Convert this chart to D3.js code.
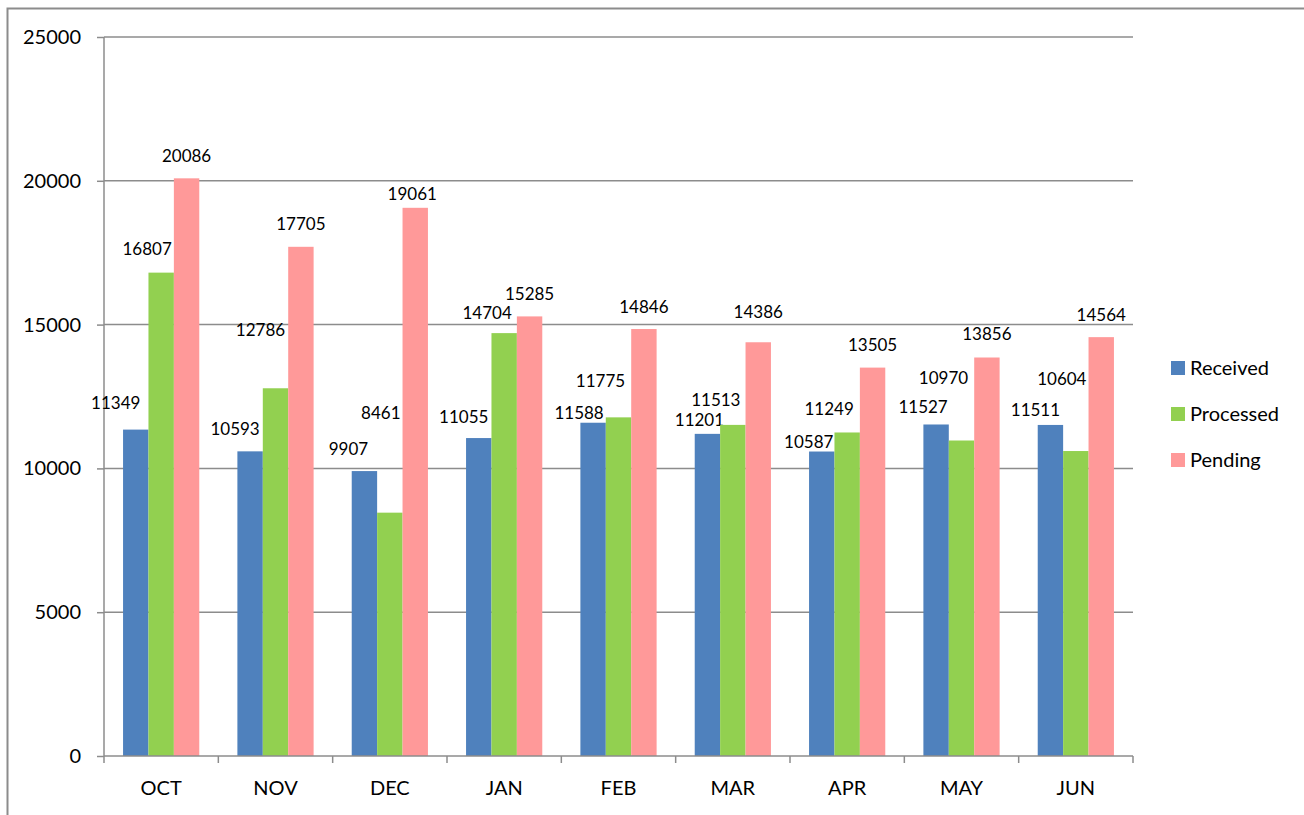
<!DOCTYPE html>
<html>
<head>
<meta charset="utf-8">
<script src="https://cdn.jsdelivr.net/npm/d3@7"></script>
<style>
  body { margin: 0; background: #fff; }
  svg text { font-family: Lato, "Open Sans", sans-serif; fill: #000; }
</style>
</head>
<body>
<div id="visu"></div>
<script>

var months = ["OCT", "NOV", "DEC", "JAN", "FEB", "MAR", "APR", "MAY", "JUN"];
var series = ["Received", "Processed", "Pending"];
var received  = [11349, 10593, 9907, 11055, 11588, 11201, 10587, 11527, 11511];
var processed = [16807, 12786, 8461, 14704, 11775, 11513, 11249, 10970, 10604];
var pending   = [20086, 17705, 19061, 15285, 14846, 14386, 13505, 13856, 14564];
var yTicks = [0, 5000, 10000, 15000, 20000, 25000];

// hand placed label nudges (dx, dy from bar top), one per month per series
var labelNudge = {
    "Received":  [[-20, -27], [-15, -22], [-16, -22], [-15, -21], [-14, -10], [-8, -14], [-13, -9], [-13, -17], [-15, -15]],
    "Processed": [[-14, -24], [-15, -58], [-9, -100], [-17, -20], [-18, -36], [-17, -25], [-18, -23], [-18, -62], [-14, -72]],
    "Pending":   [[0, -22], [0, -23], [-3, -14], [0, -22], [0, -22], [0, -30], [0, -23], [0, -23], [0, -22]]
};

var colors = d3.scaleOrdinal()
    .domain(series)
    .range(["#4F81BD", "#92D050", "#FF9999"]);

var values = { "Received": received, "Processed": processed, "Pending": pending };

var width = 1304, height = 815;
var plotLeft = 104, plotRight = 1133, plotTop = 37, plotBottom = 756;

var svg = d3.select("#visu").append("svg")
    .attr("width", width)
    .attr("height", height);

// outer chart border (only left and top show in the frame)
svg.append("path")
    .attr("d", "M7.5," + height + "V8.5H" + width)
    .attr("fill", "none")
    .attr("stroke", "#8c8c8c")
    .attr("stroke-width", 2);

var x0 = d3.scaleBand().domain(months).range([plotLeft, plotRight]);
var x1 = d3.scaleBand().domain(series).range([0, x0.bandwidth()]).paddingOuter(0.75);
var y = d3.scaleLinear().domain([0, 25000]).range([plotBottom, plotTop]);

// gridlines
svg.append("g")
    .selectAll("line")
    .data(yTicks.slice(1))
    .enter().append("line")
    .attr("x1", plotLeft).attr("x2", plotRight)
    .attr("y1", function (d) { return y(d); })
    .attr("y2", function (d) { return y(d); })
    .attr("stroke", "#8c8c8c")
    .attr("stroke-width", 1.5);

// y axis
var yAxis = svg.append("g")
    .attr("transform", "translate(" + plotLeft + ",0)")
    .call(d3.axisLeft(y).tickValues(yTicks).tickSize(7).tickPadding(16).tickFormat(d3.format("d")));
yAxis.select(".domain").remove();
yAxis.append("line")
    .attr("y1", plotTop).attr("y2", plotBottom);
yAxis.selectAll("line").attr("stroke", "#8c8c8c").attr("stroke-width", 1.5);
yAxis.selectAll("text").style("font-size", "20px").attr("fill", "#000");

// bars
var groups = svg.append("g")
    .selectAll("g")
    .data(series)
    .enter().append("g")
    .attr("fill", function (s) { return colors(s); });

function rows(s) {
    return values[s].map(function (v, i) { return { s: s, m: months[i], v: v, i: i }; });
}

groups.selectAll("rect")
    .data(rows)
    .enter().append("rect")
    .attr("x", function (d) { return x0(d.m) + x1(d.s); })
    .attr("width", x1.bandwidth())
    .attr("y", function (d) { return y(d.v); })
    .attr("height", function (d) { return y(0) - y(d.v); });

// x axis
var xAxis = svg.append("g")
    .attr("transform", "translate(0," + plotBottom + ")");
xAxis.append("line")
    .attr("x1", plotLeft).attr("x2", plotRight)
    .attr("stroke", "#8c8c8c").attr("stroke-width", 1.5);
xAxis.selectAll("line.tick")
    .data(months.concat(["end"]))
    .enter().append("line")
    .attr("class", "tick")
    .attr("x1", function (d, i) { return plotLeft + i * x0.step(); })
    .attr("x2", function (d, i) { return plotLeft + i * x0.step(); })
    .attr("y1", 0).attr("y2", 7)
    .attr("stroke", "#8c8c8c").attr("stroke-width", 1.5);
xAxis.selectAll("text")
    .data(months)
    .enter().append("text")
    .attr("x", function (d) { return x0(d) + x0.bandwidth() / 2; })
    .attr("y", 39)
    .attr("text-anchor", "middle")
    .style("font-size", "20px")
    .text(function (d) { return d; });

// data labels
groups.selectAll("text")
    .data(rows)
    .enter().append("text")
    .attr("x", function (d) { return x0(d.m) + x1(d.s) + x1.bandwidth() / 2 + labelNudge[d.s][d.i][0]; })
    .attr("y", function (d) { return y(d.v) + labelNudge[d.s][d.i][1]; })
    .attr("dy", "0.35em")
    .attr("text-anchor", "middle")
    .style("font-size", "17px")
    .attr("fill", "#000")
    .text(function (d) { return d.v; });

// legend
var legend = svg.append("g")
    .selectAll("g")
    .data(series)
    .enter().append("g")
    .attr("transform", function (d, i) { return "translate(1171," + (368 + i * 46) + ")"; });
legend.append("rect")
    .attr("x", 0).attr("y", -7)
    .attr("width", 14).attr("height", 14)
    .attr("fill", function (d) { return colors(d); });
legend.append("text")
    .attr("x", 19)
    .attr("dy", "0.35em")
    .style("font-size", "20px")
    .text(function (d) { return d; });

</script>
</body>
</html>
